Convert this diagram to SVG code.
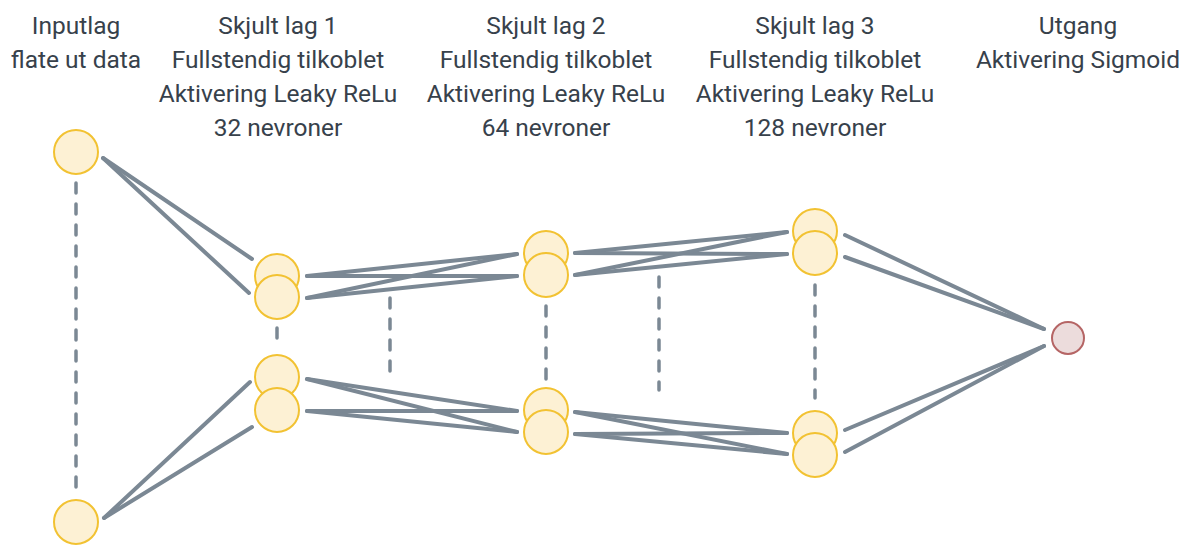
<svg xmlns="http://www.w3.org/2000/svg" width="1189" height="545" viewBox="0 0 1189 545">
  <style>
    .lbl { font-family: "Roboto", "Liberation Sans", sans-serif; font-size: 24.5px; fill: #37414b; text-anchor: middle; }
    .n { fill: #fdf1d4; stroke: #f2c232; stroke-width: 2; }
    .out { fill: #ecdcdc; stroke: #b56565; stroke-width: 2; }
    .w { stroke: #7b8894; stroke-width: 4; stroke-linecap: round; fill: none; }
    .d { stroke: #7b8894; stroke-width: 3.5; stroke-linecap: round; stroke-dasharray: 10 11; fill: none; }
  </style>

  <!-- labels -->
  <g id="labels">
    <text class="lbl" x="76" y="34">Inputlag</text>
    <text class="lbl" x="76" y="68">flate ut data</text>

    <text class="lbl" x="278" y="34">Skjult lag 1</text>
    <text class="lbl" x="278" y="68">Fullstendig tilkoblet</text>
    <text class="lbl" x="278" y="102">Aktivering Leaky ReLu</text>
    <text class="lbl" x="278" y="136">32 nevroner</text>

    <text class="lbl" x="546" y="34">Skjult lag 2</text>
    <text class="lbl" x="546" y="68">Fullstendig tilkoblet</text>
    <text class="lbl" x="546" y="102">Aktivering Leaky ReLu</text>
    <text class="lbl" x="546" y="136">64 nevroner</text>

    <text class="lbl" x="815" y="34">Skjult lag 3</text>
    <text class="lbl" x="815" y="68">Fullstendig tilkoblet</text>
    <text class="lbl" x="815" y="102">Aktivering Leaky ReLu</text>
    <text class="lbl" x="815" y="136">128 nevroner</text>

    <text class="lbl" x="1078" y="34">Utgang</text>
    <text class="lbl" x="1078" y="68">Aktivering Sigmoid</text>
  </g>

  <!-- connectors -->
  <g id="connectors">
    <!-- input to layer 1 -->
    <line class="w" x1="103" y1="158" x2="252" y2="259"/>
    <line class="w" x1="103" y1="158" x2="249" y2="293"/>
    <line class="w" x1="104" y1="518" x2="250" y2="382"/>
    <line class="w" x1="104" y1="518" x2="252" y2="427"/>

    <!-- layer 1 to layer 2 -->
    <line class="w" x1="307" y1="276" x2="517" y2="254"/>
    <line class="w" x1="307" y1="276" x2="517" y2="276"/>
    <line class="w" x1="307" y1="298" x2="517" y2="254"/>
    <line class="w" x1="307" y1="298" x2="517" y2="276"/>
    <line class="w" x1="307" y1="379" x2="517" y2="411"/>
    <line class="w" x1="307" y1="379" x2="517" y2="432"/>
    <line class="w" x1="307" y1="411" x2="517" y2="411"/>
    <line class="w" x1="307" y1="411" x2="517" y2="432"/>

    <!-- layer 2 to layer 3 -->
    <line class="w" x1="575" y1="253" x2="787" y2="232"/>
    <line class="w" x1="575" y1="253" x2="787" y2="254"/>
    <line class="w" x1="575" y1="275" x2="787" y2="232"/>
    <line class="w" x1="575" y1="275" x2="787" y2="254"/>
    <line class="w" x1="575" y1="412" x2="787" y2="433"/>
    <line class="w" x1="575" y1="412" x2="787" y2="454"/>
    <line class="w" x1="575" y1="434" x2="787" y2="433"/>
    <line class="w" x1="575" y1="434" x2="787" y2="454"/>

    <!-- layer 3 to output -->
    <line class="w" x1="845" y1="235" x2="1044" y2="329"/>
    <line class="w" x1="845" y1="257" x2="1044" y2="329"/>
    <line class="w" x1="845" y1="430" x2="1044" y2="346"/>
    <line class="w" x1="845" y1="452" x2="1044" y2="346"/>

    <!-- elided neurons -->
    <line class="d" x1="76" y1="183" x2="76" y2="494"/>
    <line class="d" x1="277" y1="328" x2="277" y2="340"/>
    <line class="d" x1="390" y1="298" x2="390" y2="372"/>
    <line class="d" x1="546" y1="306" x2="546" y2="380"/>
    <line class="d" x1="659" y1="277" x2="659" y2="390"/>
    <line class="d" x1="815" y1="285" x2="815" y2="398"/>
  </g>

  <!-- nodes -->
  <g id="input">
    <circle class="n" cx="76" cy="152" r="22"/>
    <circle class="n" cx="76" cy="522" r="22"/>
  </g>
  <g id="hidden1">
    <circle class="n" cx="277" cy="276" r="22"/>
    <circle class="n" cx="277" cy="297" r="22"/>
    <circle class="n" cx="277" cy="377" r="22"/>
    <circle class="n" cx="277" cy="410" r="22"/>
  </g>
  <g id="hidden2">
    <circle class="n" cx="546" cy="253" r="22"/>
    <circle class="n" cx="546" cy="275" r="22"/>
    <circle class="n" cx="546" cy="410" r="22"/>
    <circle class="n" cx="546" cy="432" r="22"/>
  </g>
  <g id="hidden3">
    <circle class="n" cx="815" cy="231" r="22"/>
    <circle class="n" cx="815" cy="253" r="22"/>
    <circle class="n" cx="815" cy="433" r="22"/>
    <circle class="n" cx="815" cy="455" r="22"/>
  </g>
  <g id="output">
    <circle class="out" cx="1068" cy="338" r="16"/>
  </g>
</svg>
